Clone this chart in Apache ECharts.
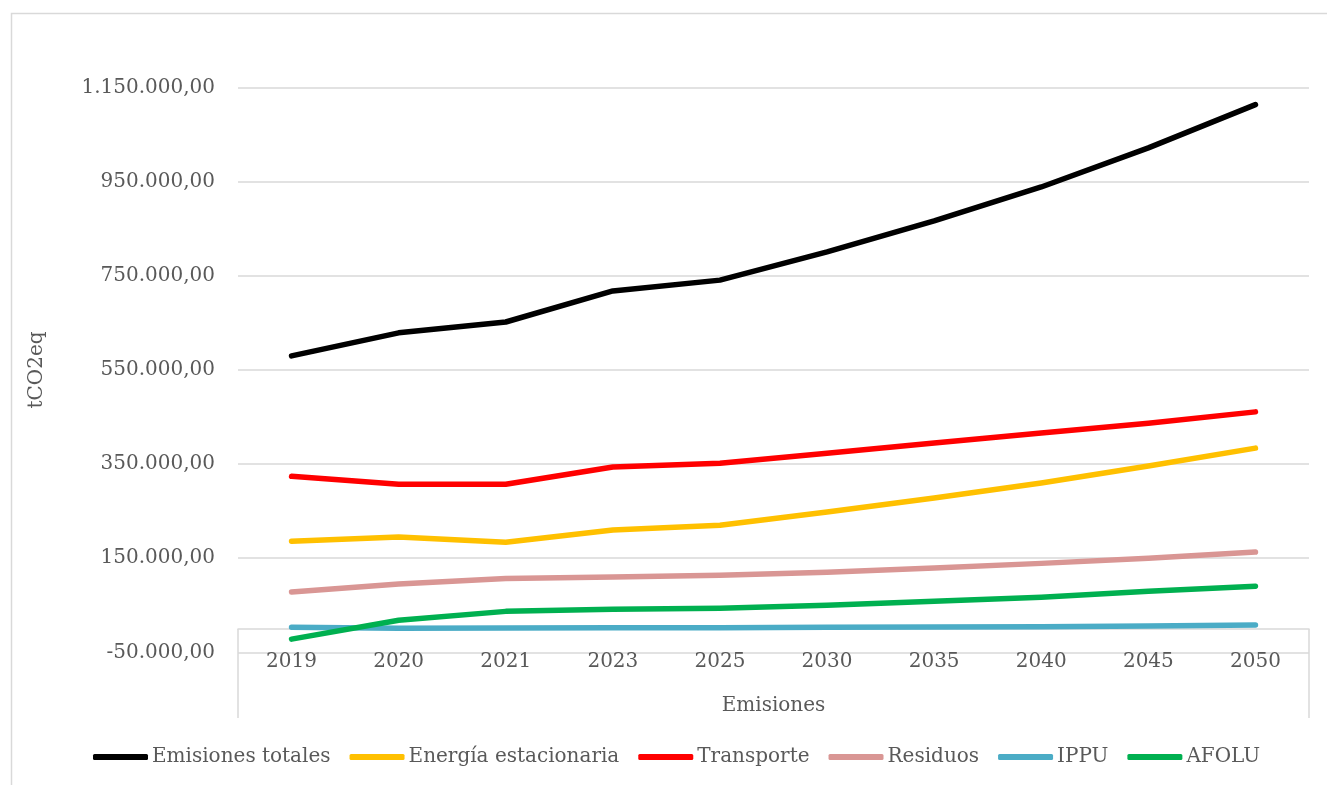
<!DOCTYPE html>
<html>
<head>
<meta charset="utf-8">
<script src="https://cdn.jsdelivr.net/npm/echarts@6/dist/echarts.min.js"></script>
<style>
html,body{margin:0;padding:0;background:#fff;}
#c{width:1327px;height:785px;}
</style>
</head>
<body>
<div id="c"></div>
<script>
const categories = ['2019','2020','2021','2023','2025','2030','2035','2040','2045','2050'];
const emisionesTotales = [580000, 629000, 652000, 718000, 741000, 801000, 867000, 939000, 1022000, 1114000];
const energiaEstacionaria = [186000, 195000, 184000, 210000, 220000, 248000, 278000, 310000, 346000, 384000];
const transporte = [324000, 307000, 307000, 344000, 352000, 373000, 395000, 416000, 437000, 461000];
const residuos = [78000, 95000, 107000, 110000, 114000, 120000, 129000, 139000, 150000, 163000];
const ippu = [3200, 1000, 1700, 2100, 2300, 3200, 3800, 4500, 6000, 8000];
const afolu = [-22000, 18000, 37000, 41500, 43500, 50000, 58500, 67000, 80000, 90500];
const yTicks = [-50000, 150000, 350000, 550000, 750000, 950000, 1150000];
const groupLabel = ['Emisiones'];

const FONT = 'DejaVu Serif';
const GREY = '#595959';
const LINE = '#d9d9d9';

function fmt(v){
  const neg = v < 0;
  const s = Math.abs(Math.round(v)).toString().replace(/\B(?=(\d{3})+(?!\d))/g, '.');
  return (neg ? '-' : '') + s + ',00';
}

function mk(name, data, color){
  return {
    name: name, type: 'line', data: data, symbol: 'none',
    xAxisIndex: 0, yAxisIndex: 0,
    lineStyle: {color: color, width: 5.5, cap: 'round', join: 'round'},
    itemStyle: {color: color}
  };
}

const chart = echarts.init(document.getElementById('c'), null, {renderer: 'canvas'});
chart.setOption({
  animation: false,
  backgroundColor: '#fff',
  textStyle: {fontFamily: FONT},
  graphic: [{
    type: 'rect', left: 9, top: 11,
    shape: {width: 1330, height: 790},
    style: {fill: 'none', stroke: LINE, lineWidth: 1.5},
    silent: true
  }],
  grid: [
    {left: 238, right: 18, top: 87.7, bottom: 132.7},
    {left: 238, right: 18, top: 629, height: 89}
  ],
  legend: {
    left: 88, top: 742,
    icon: 'roundRect',
    itemWidth: 55, itemHeight: 6, itemGap: 19,
    textStyle: {fontFamily: FONT, fontSize: 20, color: GREY, padding: [0, 0, 0, -1]},
    data: ['Emisiones totales','Energía estacionaria','Transporte','Residuos','IPPU','AFOLU']
  },
  xAxis: [{
    type: 'category', data: categories, gridIndex: 0, boundaryGap: true,
    axisLine: {onZero: true, lineStyle: {color: LINE, width: 1.5}},
    axisTick: {show: false},
    axisLabel: {margin: -1, fontFamily: FONT, fontSize: 20, color: GREY, interval: 0},
    splitLine: {show: false}
  }, {
    type: 'category', data: groupLabel, gridIndex: 1, boundaryGap: true,
    axisLine: {show: false},
    axisTick: {show: false},
    axisLabel: {inside: true, margin: 2, fontFamily: FONT, fontSize: 20, color: GREY},
    splitLine: {show: true, lineStyle: {color: LINE, width: 1.5}}
  }],
  yAxis: [{
    type: 'value', gridIndex: 0, min: -50000, max: 1150000,
    name: 'tCO2eq', nameLocation: 'middle', nameGap: 191, nameRotate: 90,
    nameTextStyle: {fontFamily: FONT, fontSize: 20, color: GREY},
    axisLine: {show: false},
    axisTick: {show: false, customValues: yTicks},
    axisLabel: {customValues: yTicks, formatter: fmt, margin: 23, fontFamily: FONT, fontSize: 20, color: GREY},
    splitLine: {show: true, lineStyle: {color: LINE, width: 1.5}}
  }, {
    type: 'value', gridIndex: 1, show: false
  }],
  series: [
    mk('Emisiones totales', emisionesTotales, '#000000'),
    mk('Energía estacionaria', energiaEstacionaria, '#FFC000'),
    mk('Transporte', transporte, '#FF0000'),
    mk('Residuos', residuos, '#D99694'),
    mk('IPPU', ippu, '#4BACC6'),
    mk('AFOLU', afolu, '#00B050')
  ]
});
</script>
</body>
</html>
